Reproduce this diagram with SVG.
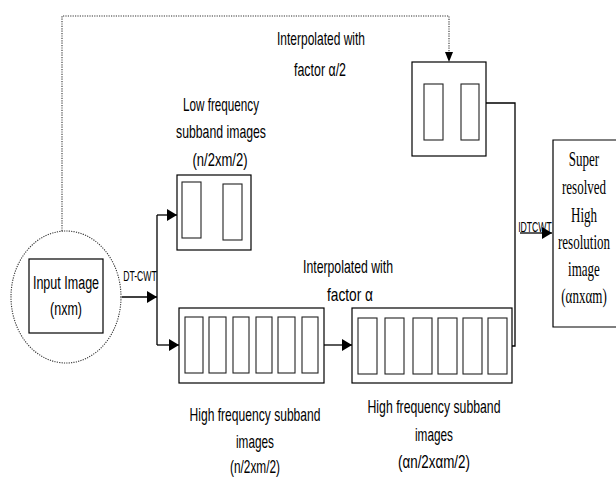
<svg xmlns="http://www.w3.org/2000/svg" width="616" height="478" viewBox="0 0 616 478">
<style>
.box{fill:#fff;stroke:#000;stroke-width:1.2}
.in{fill:#fff;stroke:#222;stroke-width:1.1}
.ln{fill:none;stroke:#000;stroke-width:1.3}
.dot{fill:none;stroke:#333;stroke-width:1.1;stroke-dasharray:1.2 1.2}
.t{font-family:"Liberation Sans Narrow","Liberation Sans",Arial,sans-serif;font-size:19px;fill:#000;text-anchor:middle}
.w{font-family:"Liberation Sans",Arial,sans-serif;fill:#000;text-anchor:middle}
.r{font-family:"Liberation Serif","Times New Roman",serif;font-size:21px;fill:#000;text-anchor:middle}
</style>
<defs>
<marker id="ah" markerUnits="userSpaceOnUse" markerWidth="11" markerHeight="12" refX="10" refY="6" orient="auto">
<path d="M0,0 L10,6 L0,12 z" fill="#000"/>
</marker>
</defs>

<g id="connectors">
<path class="dot" d="M62,231 V16 H449 V52"/>
<path d="M445,52 L453,52 L449,62 z" fill="#000"/>
<path class="ln" d="M122,297 H157" marker-end="url(#ah)"/>
<path class="ln" d="M157,215 V345"/>
<path class="ln" d="M157,215 H177" marker-end="url(#ah)"/>
<path class="ln" d="M157,345 H179" marker-end="url(#ah)"/>
<path class="ln" d="M324,345 H352" marker-end="url(#ah)"/>
<path class="ln" d="M512,346 H515 V103 H486"/>
<path class="ln" d="M520,233 H552" marker-end="url(#ah)"/>
</g>

<g id="label-top">
<text class="t" x="321" y="45" textLength="88" lengthAdjust="spacingAndGlyphs">Interpolated with</text>
<text class="t" x="320" y="76" textLength="52" lengthAdjust="spacingAndGlyphs">factor α/2</text>
</g>

<g id="input">
<ellipse cx="66" cy="297" rx="55" ry="66" class="dot"/>
<rect class="box" x="29" y="259" width="74" height="74"/>
<g transform="translate(66,0) scale(0.66,1)">
<text class="w" x="0" y="289" font-size="19">Input Image</text>
<text class="w" x="0" y="315" font-size="19">(nxm)</text>
</g>
</g>
<g transform="translate(140,0) scale(0.62,1)">
<text class="w" x="0" y="281" font-size="14">DT-CWT</text>
</g>

<g id="low">
<text class="t" x="221" y="111" textLength="76" lengthAdjust="spacingAndGlyphs">Low frequency</text>
<text class="t" x="221" y="138" textLength="90" lengthAdjust="spacingAndGlyphs">subband images</text>
<text class="t" x="220" y="166" textLength="55" lengthAdjust="spacingAndGlyphs">(n/2xm/2)</text>
<rect class="box" x="177" y="175" width="74" height="75"/>
<rect class="in" x="182" y="182" width="19" height="56"/>
<rect class="in" x="223" y="184" width="19" height="56"/>
</g>

<g id="lowinterp">
<rect class="box" x="412" y="62" width="74" height="94"/>
<rect class="in" x="424" y="84" width="19" height="56"/>
<rect class="in" x="461" y="84" width="18" height="56"/>
</g>

<g id="high">
<rect class="box" x="179" y="308" width="145" height="75"/>
<rect class="in" x="185" y="317" width="18" height="56"/>
<rect class="in" x="209" y="317" width="17" height="56"/>
<rect class="in" x="233" y="317" width="16" height="56"/>
<rect class="in" x="256" y="317" width="16" height="56"/>
<rect class="in" x="278" y="317" width="17" height="56"/>
<rect class="in" x="302" y="317" width="16" height="56"/>
<text class="t" x="255" y="421" textLength="131" lengthAdjust="spacingAndGlyphs">High frequency subband</text>
<text class="t" x="255" y="448" textLength="38" lengthAdjust="spacingAndGlyphs">images</text>
<text class="t" x="255" y="473" textLength="50" lengthAdjust="spacingAndGlyphs">(n/2xm/2)</text>
</g>

<g id="label-mid">
<text class="t" x="348" y="273" textLength="90" lengthAdjust="spacingAndGlyphs">Interpolated with</text>
<text class="t" x="350" y="301" textLength="46" lengthAdjust="spacingAndGlyphs">factor α</text>
</g>

<g id="highinterp">
<rect class="box" x="352" y="308" width="160" height="75"/>
<rect class="in" x="358" y="318" width="19" height="56"/>
<rect class="in" x="385" y="318" width="19" height="56"/>
<rect class="in" x="413" y="318" width="19" height="56"/>
<rect class="in" x="438" y="318" width="19" height="56"/>
<rect class="in" x="463" y="318" width="19" height="56"/>
<rect class="in" x="488" y="318" width="19" height="56"/>
<text class="t" x="434" y="413" textLength="133" lengthAdjust="spacingAndGlyphs">High frequency subband</text>
<text class="t" x="434" y="441" textLength="38" lengthAdjust="spacingAndGlyphs">images</text>
<text class="t" x="434" y="468" textLength="72" lengthAdjust="spacingAndGlyphs">(αn/2xαm/2)</text>
</g>

<g transform="translate(535,0) scale(0.62,1)">
<text class="w" x="0" y="232" font-size="14">IDTCWT</text>
</g>

<g id="output">
<path class="box" d="M616,140 H553 V327 H616"/>
<g transform="translate(584,0) scale(0.62,1)">
<text class="r" x="0" y="166">Super</text>
<text class="r" x="0" y="194">resolved</text>
<text class="r" x="0" y="222">High</text>
<text class="r" x="0" y="249">resolution</text>
<text class="r" x="0" y="276">image</text>
<text class="r" x="0" y="303">(αnxαm)</text>
</g>
</g>
</svg>
